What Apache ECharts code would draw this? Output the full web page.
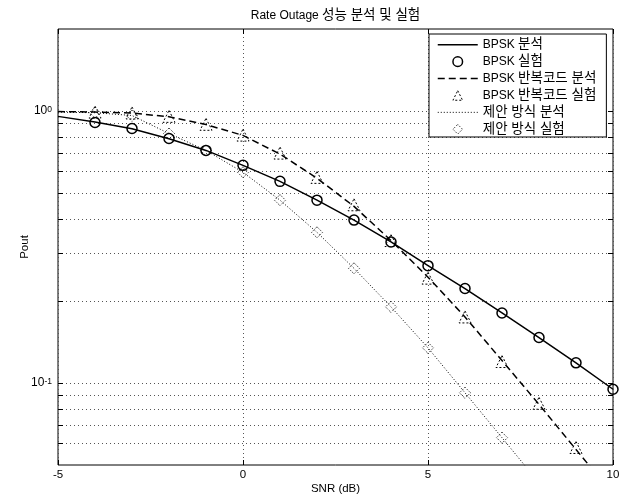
<!DOCTYPE html>
<html>
<head>
<meta charset="utf-8">
<script src="https://cdn.jsdelivr.net/npm/echarts@6/dist/echarts.min.js"></script>
<style>
html,body{margin:0;padding:0;background:#fff;}
#c{width:629px;height:497px;}
</style>
</head>
<body>
<div id="c"></div>
<script>
// ---- data ----
const snrLine = [-5,-4,-3,-2,-1,0,1,2,3,4,5,6,7,8,9,10];
const snrExp  = [-4,-3,-2,-1,0,1,2,3,4,5,6,7,8,9,10];

const bpskAnalysis = [0.955,0.91,0.86,0.79,0.716,0.631,0.551,0.470,0.397,0.330,0.270,0.2225,0.181,0.147,0.1187,0.0949];
const bpskExp      = [0.907,0.862,0.792,0.716,0.631,0.551,0.470,0.397,0.330,0.270,0.2225,0.181,0.147,0.1187,0.0949];

const repAnalysis  = [0.995,0.99,0.982,0.952,0.891,0.813,0.694,0.566,0.446,0.334,0.245,0.175,0.121,0.0835,0.057,0.039];
const repExp       = [0.99,0.983,0.955,0.893,0.815,0.700,0.570,0.452,0.334,0.243,0.175,0.120,0.0843,0.058,null];

const propAnalysis = [0.99,0.985,0.962,0.826,0.716,0.595,0.470,0.358,0.264,0.1905,0.1347,0.0921,0.063,0.043,null,null];
const propExp      = [0.985,0.96,0.826,0.716,0.595,0.470,0.358,0.264,0.1905,0.1347,0.0921,0.063,null,null,null];

const seriesNames = ['BPSK 분석','BPSK 실험','BPSK 반복코드 분석','BPSK 반복코드 실험','제안 방식 분석','제안 방식 실험'];

const xMin = -5, xMax = 10, xInterval = 5;
const yMin = 0.05, yMax = 2;
const yGridValues = [0.06,0.07,0.08,0.09,0.1,0.2,0.3,0.4,0.5,0.6,0.7,0.8,0.9,1];

// ---- layout ----
const FONT = "'Liberation Sans', Arial, 'Noto Sans CJK KR', sans-serif";
const grid = {left:58, right:16, top:29, bottom:32};
const gridWidth = 629 - grid.left - grid.right;
const tickLen = 5 * (xMax - xMin) / gridWidth;

const pairs = (xs, ys) => xs.map((x, i) => [x, ys[i]]);

// split a label into Latin and Korean parts so each can use its own size
const richLabel = s => {
  const m = s.match(/^([A-Za-z ]*?)\s*([\uAC00-\uD7A3].*)$/);
  if (!m) return '{a|' + s + '}';
  return (m[1] ? '{a|' + m[1] + '} ' : '') + '{k|' + m[2] + '}';
};

const gridLines = yGridValues.map(v => ({yAxis: v}));
const tickSegs = [];
yGridValues.forEach(v => {
  tickSegs.push([{coord:[xMin, v]}, {coord:[xMin + tickLen, v]}]);
  tickSegs.push([{coord:[xMax - tickLen, v]}, {coord:[xMax, v]}]);
});

const hiddenDot = {color:'rgba(0,0,0,0)', borderColor:'rgba(0,0,0,0)', borderWidth:0};
const noLine = {color:'rgba(0,0,0,0)', width:0};

const chart = echarts.init(document.getElementById('c'), null, {renderer:'canvas'});
chart.setOption({
  animation:false,
  backgroundColor:'#fff',
  textStyle:{fontFamily:FONT, color:'#000'},
  title:{
    text: richLabel('Rate Outage 성능 분석 및 실험'),
    left: grid.left + gridWidth/2,
    top: 9,
    padding: 0,
    textAlign:'center',
    textStyle:{
      fontFamily:FONT, fontWeight:'normal', fontSize:12, color:'#000',
      rich:{ a:{fontSize:12, fontFamily:FONT, color:'#000'}, k:{fontSize:13.5, fontFamily:FONT, color:'#000'} }
    }
  },
  grid:{left:grid.left, right:grid.right, top:grid.top, bottom:grid.bottom, outerBoundsMode:'none', containLabel:false,
        show:true, borderColor:'#000', borderWidth:1, backgroundColor:'rgba(0,0,0,0)'},
  legend:{
    orient:'vertical', left:429, top:34,
    padding:[4,10,1,8], itemGap:3.4, itemWidth:40, itemHeight:12,
    backgroundColor:'#fff', borderColor:'#000', borderWidth:1, borderRadius:0,
    selectedMode:false,
    formatter: richLabel,
    textStyle:{fontFamily:FONT, fontSize:12, color:'#000',
      rich:{ a:{fontSize:12, fontFamily:FONT, color:'#000'}, k:{fontSize:13.5, fontFamily:FONT, color:'#000'} }
    },
    data:[
      {name:seriesNames[0], itemStyle:hiddenDot, lineStyle:{color:'#000', width:1.5, type:'solid'}},
      {name:seriesNames[1], itemStyle:{color:'rgba(0,0,0,0)', borderColor:'#000', borderWidth:1.5}, lineStyle:noLine},
      {name:seriesNames[2], itemStyle:hiddenDot, lineStyle:{color:'#000', width:1.5, type:[7,4]}},
      {name:seriesNames[3], itemStyle:{color:'rgba(0,0,0,0)', borderColor:'#000', borderWidth:1, borderType:[2,2]}, lineStyle:noLine},
      {name:seriesNames[4], itemStyle:hiddenDot, lineStyle:{color:'#000', width:1, type:[1,2]}},
      {name:seriesNames[5], itemStyle:{color:'rgba(0,0,0,0)', borderColor:'#000', borderWidth:1, borderType:[1,1.5]}, lineStyle:noLine}
    ]
  },
  xAxis:[{
    type:'value', min:xMin, max:xMax, interval:xInterval, position:'bottom',
    axisLine:{show:false},
    axisTick:{show:true, inside:true, length:5, lineStyle:{color:'#000'}},
    axisLabel:{margin:4, fontSize:11.5, color:'#000', fontFamily:FONT},
    splitLine:{show:true, lineStyle:{color:'#555', width:1, type:[1,3]}},
    name:'SNR (dB)', nameLocation:'middle', nameGap:18, nameMoveOverlap:false,
    nameTextStyle:{fontSize:11.5, color:'#000', fontFamily:FONT}
  },{
    type:'value', min:xMin, max:xMax, interval:xInterval, position:'top',
    axisLine:{show:false},
    axisTick:{show:true, inside:true, length:5, lineStyle:{color:'#000'}},
    axisLabel:{show:false}, splitLine:{show:false}
  }],
  yAxis:[{
    type:'log', logBase:10, min:yMin, max:yMax, position:'left',
    axisLine:{show:false}, axisTick:{show:false}, splitLine:{show:false},
    axisLabel:{
      margin:6, color:'#000', fontFamily:FONT,
      formatter: v => {
        const e = Math.log10(v), r = Math.round(e);
        if (Math.abs(e - r) > 1e-6) return '';
        return '{b|10}{s|' + r + '}';
      },
      rich:{ b:{fontSize:12, color:'#000', fontFamily:FONT}, s:{fontSize:8.5, color:'#000', fontFamily:FONT, verticalAlign:'top'} }
    },
    name:'Pout', nameLocation:'middle', nameGap:27, nameRotate:90, nameMoveOverlap:false,
    nameTextStyle:{fontSize:11.5, color:'#000', fontFamily:FONT}
  },{
    type:'log', logBase:10, min:yMin, max:yMax, position:'right',
    axisLine:{show:false}, axisTick:{show:false}, splitLine:{show:false}, axisLabel:{show:false}
  }],
  series:[
    {
      name:seriesNames[0], type:'line', data:pairs(snrLine, bpskAnalysis),
      symbol:'none', z:3, lineStyle:{color:'#000', width:1.5, type:'solid'}, itemStyle:{color:'#000'},
      markLine:{
        silent:true, z:1, symbol:['none','none'], label:{show:false}, animation:false,
        lineStyle:{color:'#555', width:1, type:[1,3]},
        emphasis:{disabled:true},
        data:gridLines
      }
    },
    {
      name:seriesNames[1], type:'line', data:pairs(snrExp, bpskExp),
      symbol:'circle', symbolSize:10, z:4,
      lineStyle:{width:0, color:'rgba(0,0,0,0)'},
      itemStyle:{color:'rgba(0,0,0,0)', borderColor:'#000', borderWidth:1.5},
      markLine:{
        silent:true, z:1, symbol:['none','none'], label:{show:false}, animation:false,
        lineStyle:{color:'#000', width:1, type:'solid'},
        emphasis:{disabled:true},
        data:tickSegs
      }
    },
    {
      name:seriesNames[2], type:'line', data:pairs(snrLine, repAnalysis),
      symbol:'none', z:3, lineStyle:{color:'#000', width:1.5, type:[7,4]}, itemStyle:{color:'#000'}
    },
    {
      name:seriesNames[3], type:'line', data:pairs(snrExp, repExp),
      symbol:'triangle', symbolSize:12, z:4,
      lineStyle:{width:0, color:'rgba(0,0,0,0)'},
      itemStyle:{color:'rgba(0,0,0,0)', borderColor:'#000', borderWidth:1, borderType:[2,2]}
    },
    {
      name:seriesNames[4], type:'line', data:pairs(snrLine, propAnalysis),
      symbol:'none', z:3, connectNulls:false, lineStyle:{color:'#000', width:1, type:[1,2]}, itemStyle:{color:'#000'}
    },
    {
      name:seriesNames[5], type:'line', data:pairs(snrExp, propExp),
      symbol:'diamond', symbolSize:11, z:4,
      lineStyle:{width:0, color:'rgba(0,0,0,0)'},
      itemStyle:{color:'rgba(0,0,0,0)', borderColor:'#000', borderWidth:1, borderType:[1,1.5]}
    }
  ]
});
</script>
</body>
</html>
